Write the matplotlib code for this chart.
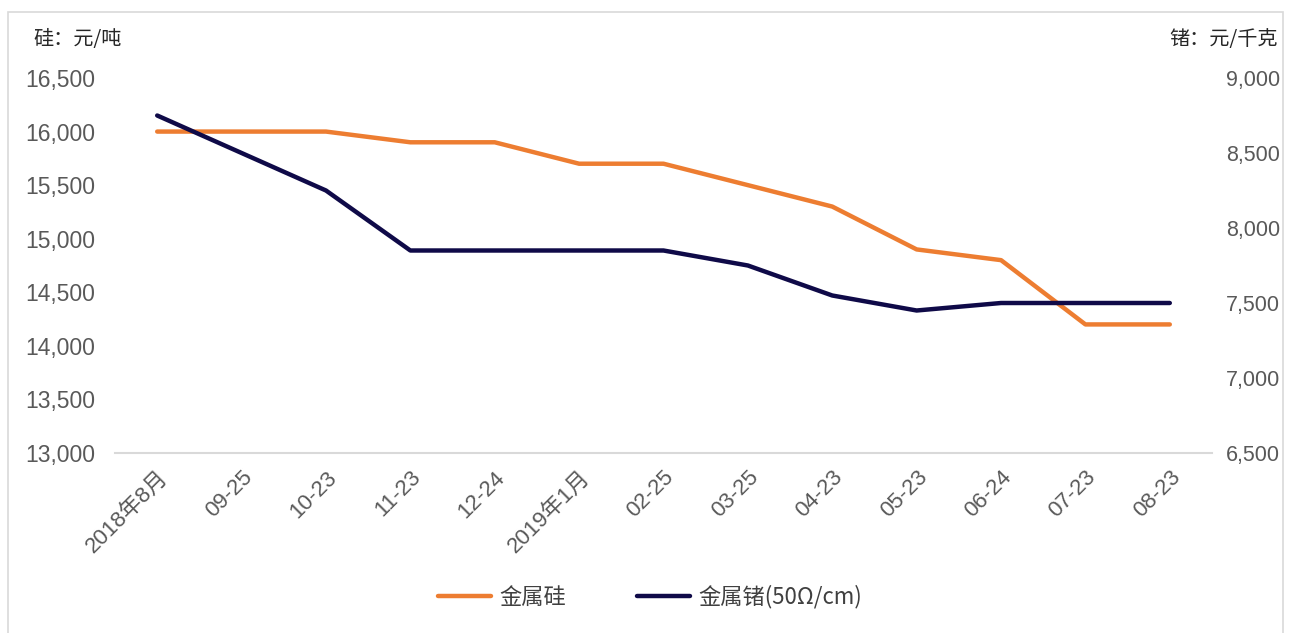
import matplotlib.pyplot as plt
from matplotlib.patches import Rectangle
from matplotlib.ticker import FuncFormatter

plt.rcParams['font.family'] = ['Liberation Sans', 'Noto Sans CJK SC', 'DejaVu Sans']

dates = ["2018年8月", "09-25", "10-23", "11-23", "12-24", "2019年1月", "02-25",
         "03-25", "04-23", "05-23", "06-24", "07-23", "08-23"]
silicon = [16000, 16000, 16000, 15900, 15900, 15700, 15700, 15500, 15300,
           14900, 14800, 14200, 14200]
germanium = [8750, 8500, 8250, 7850, 7850, 7850, 7850, 7750, 7550,
             7450, 7500, 7500, 7500]

orange = "#ED7D31"
navy = "#0F0A48"
gray = "#595959"
cjk = ["Noto Sans CJK SC", "DejaVu Sans"]

fig = plt.figure(figsize=(12.9, 6.33), dpi=100)
# light frame around the chart
fig.patches.append(Rectangle((8 / 1290, -0.01), 1275 / 1290, 1 - 12 / 633 + 0.01,
                             transform=fig.transFigure, fill=False,
                             edgecolor="#D9D9D9", linewidth=1.2))

ax = fig.add_axes([115 / 1290, 1 - 453 / 633, 1097 / 1290, 375 / 633])
ax2 = ax.twinx()

x = list(range(len(dates)))
l1, = ax.plot(x, silicon, color=orange, lw=3.2, solid_capstyle="round", label="金属硅")
l2, = ax2.plot(x, germanium, color=navy, lw=3.2, solid_capstyle="round", label="金属锗(50Ω/cm)")

ax.set_xlim(-0.5, len(dates) - 0.5)
ax.set_ylim(13000, 16500)
ax2.set_ylim(6500, 9000)
ax.set_yticks(range(13000, 16501, 500))
ax2.set_yticks(range(6500, 9001, 500))
fmt = FuncFormatter(lambda v, p: f"{int(v):,}")
ax.yaxis.set_major_formatter(fmt)
ax2.yaxis.set_major_formatter(fmt)

ax.set_xticks(x)
ax.set_xticklabels(dates, rotation=45, ha="right", rotation_mode="anchor",
                   fontsize=16, color=gray)
ax.tick_params(axis="x", length=0, pad=10)
ax.tick_params(axis="y", length=0, labelsize=16.5, labelcolor=gray, pad=14)
ax2.tick_params(axis="y", length=0, labelsize=15.5, labelcolor=gray, pad=10)

for a in (ax, ax2):
    for s in a.spines.values():
        s.set_visible(False)
ax.spines["bottom"].set_visible(True)
ax.spines["bottom"].set_color("#D9D9D9")
ax.spines["bottom"].set_linewidth(1.5)

fig.text(33 / 1290, 1 - 40 / 633, "硅：元/吨", fontsize=14.5, color="#262626",
         va="center", ha="left", family=cjk)
fig.text(1278 / 1290, 1 - 40 / 633, "锗：元/千克", fontsize=14.5, color="#262626",
         va="center", ha="right", family=cjk)

fig.legend(handles=[l1, l2], loc="center", bbox_to_anchor=(650 / 1290, 1 - 597 / 633),
           ncol=2, frameon=False, handlelength=2.4, handletextpad=0.35,
           columnspacing=3.2, labelcolor="#404040",
           prop={"family": cjk, "size": 16})

fig.savefig("out.png", dpi=100)
